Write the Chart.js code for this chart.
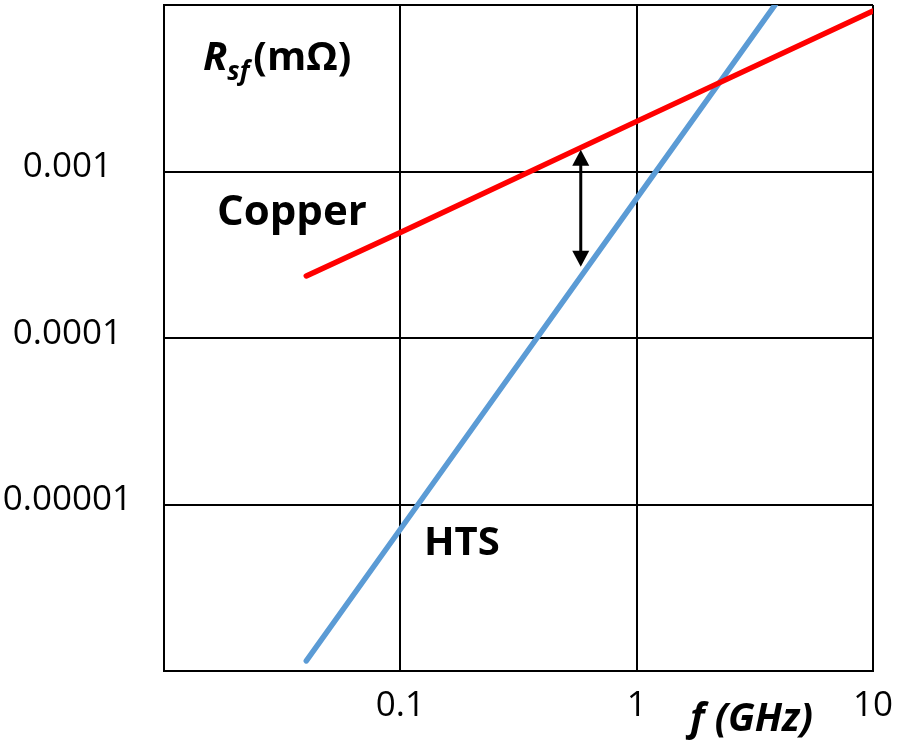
<!DOCTYPE html>
<html>
<head>
<meta charset="utf-8">
<script src="https://cdn.jsdelivr.net/npm/chart.js@4.4.0/dist/chart.umd.min.js"></script>
<style>
  body { margin: 0; background: #fff; }
</style>
</head>
<body>
<canvas id="rsChart" width="897" height="742"></canvas>
<script>
// values (GHz, mOhm)
const freqCopper = [0.04, 0.1, 1, 10];
const rsCopper = [2.36e-4, 4.3e-4, 2.0e-3, 9.2e-3];
const freqHTS = [0.04, 0.1, 1, 4];
const rsHTS = [1.15e-6, 7.1e-6, 6.9e-4, 1.08e-2];

const xTicks = [0.01, 0.1, 1, 10];
const xTickLabels = ["", "0.1", "1", "10"];
const yTicks = [1e-6, 1e-5, 1e-4, 1e-3, 1e-2];
const yTickLabels = ["", "0.00001", "0.0001", "0.001", ""];

// double arrow between the two curves
const arrowFreq = 0.58;
const arrowRs = [1.35e-3, 2.68e-4];

const toPoints = (xs, ys) => xs.map((v, i) => ({ x: v, y: ys[i] }));

const labelsPlugin = {
  id: "labels",
  afterDatasetsDraw(chart) {
    const c = chart.ctx;
    const xs = chart.scales.x;
    const ys = chart.scales.y;
    c.save();
    c.fillStyle = "#000";
    c.strokeStyle = "#000";
    c.textAlign = "left";
    c.textBaseline = "alphabetic";

    // R_sf (mΩ)
    let px = 203;
    c.font = "italic bold 40px 'Open Sans'";
    c.fillText("R", px, 70);
    px += c.measureText("R").width;
    c.font = "italic bold 26px 'Open Sans'";
    c.fillText("sf", px, 80);
    px += c.measureText("sf").width + 4;
    c.font = "bold 40px 'Open Sans'";
    c.fillText("(mΩ)", px, 70);

    c.font = "bold 42px 'Open Sans'";
    c.fillText("Copper", 217, 225);
    c.font = "bold 40px 'Open Sans'";
    c.fillText("HTS", 424, 555);

    c.font = "italic bold 39px 'Open Sans'";
    c.fillText("f (GHz)", 690, 731);

    // arrow
    const ax = xs.getPixelForValue(arrowFreq);
    const yTop = ys.getPixelForValue(arrowRs[0]);
    const yBot = ys.getPixelForValue(arrowRs[1]);
    c.lineWidth = 3;
    c.beginPath();
    c.moveTo(ax, yTop + 10);
    c.lineTo(ax, yBot - 10);
    c.stroke();
    c.beginPath();
    c.moveTo(ax, yTop);
    c.lineTo(ax - 8.5, yTop + 16);
    c.lineTo(ax + 8.5, yTop + 16);
    c.closePath();
    c.fill();
    c.beginPath();
    c.moveTo(ax, yBot);
    c.lineTo(ax - 8.5, yBot - 16);
    c.lineTo(ax + 8.5, yBot - 16);
    c.closePath();
    c.fill();
    c.restore();
  },
};

const ctx = document.querySelector("#rsChart").getContext("2d");

const data = {
  datasets: [
    {
      label: "Copper",
      data: toPoints(freqCopper, rsCopper),
      borderColor: "#ff0000",
      borderWidth: 5.5,
      borderCapStyle: "round",
      pointRadius: 0,
    },
    {
      label: "HTS",
      data: toPoints(freqHTS, rsHTS),
      borderColor: "#5b9bd5",
      borderWidth: 5.5,
      borderCapStyle: "round",
      pointRadius: 0,
      clip: 0,
    },
  ],
};

const config = {
  type: "line",
  data: data,
  options: {
    responsive: false,
    animation: false,
    events: [],
    layout: { padding: { top: 5, right: 24, left: 0, bottom: 0 } },
    plugins: {
      legend: { display: false },
      tooltip: { enabled: false },
    },
    scales: {
      x: {
        type: "logarithmic",
        min: 0.01,
        max: 10,
        afterBuildTicks: (scale) => {
          scale.ticks = xTicks.map((v) => ({ value: v }));
        },
        afterFit: (scale) => {
          scale.height = 71;
          scale.paddingLeft = 0;
          scale.paddingRight = 0;
        },
        grid: { color: "#000", lineWidth: 2, drawTicks: false },
        border: { color: "#000", width: 2 },
        ticks: {
          color: "#000",
          font: { family: "'Open Sans'", size: 35 },
          padding: 14,
          maxRotation: 0,
          autoSkip: false,
          callback: (value, index) => xTickLabels[index],
        },
      },
      y: {
        type: "logarithmic",
        min: 1e-6,
        max: 1e-2,
        afterBuildTicks: (scale) => {
          scale.ticks = yTicks.map((v) => ({ value: v }));
        },
        afterFit: (scale) => {
          scale.width = 164;
          scale.paddingTop = 0;
          scale.paddingBottom = 0;
        },
        grid: { color: "#000", lineWidth: 2, drawTicks: false },
        border: { color: "#000", width: 2 },
        ticks: {
          color: "#000",
          font: { family: "'Open Sans'", size: 35 },
          padding: 32,
          crossAlign: "center",
          labelOffset: -4,
          autoSkip: false,
          callback: (value, index) => yTickLabels[index],
        },
      },
    },
  },
  plugins: [labelsPlugin],
};

const rsChart = new Chart(ctx, config);
</script>
</body>
</html>
